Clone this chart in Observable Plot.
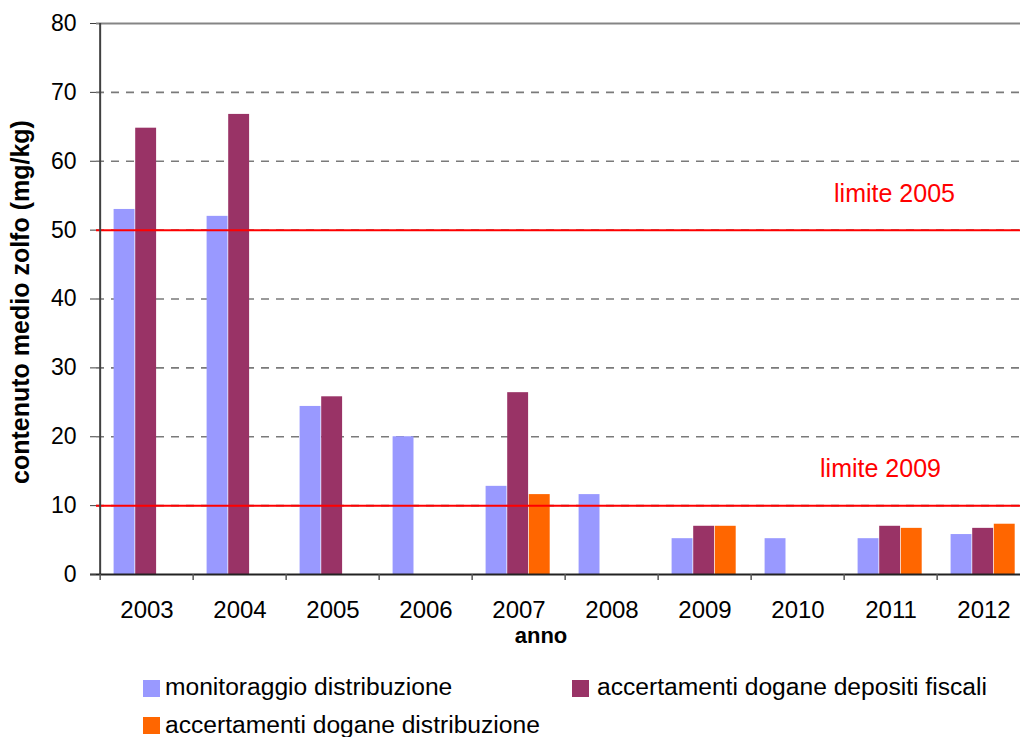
<!DOCTYPE html>
<html>
<head>
<meta charset="utf-8">
<script src="https://cdn.jsdelivr.net/npm/d3@7"></script>
<script src="https://cdn.jsdelivr.net/npm/@observablehq/plot@0.6"></script>
<style>
html, body { margin: 0; padding: 0; background: #fff; overflow: hidden; }
#wrap { position: relative; width: 1020px; height: 737px; overflow: hidden; font-family: "Liberation Sans", Arial, sans-serif; }
#wrap svg { position: absolute; left: 0; top: 0; max-width: none !important; }
.sw { position: absolute; width: 17px; height: 17px; }
.lt { position: absolute; font-size: 23px; line-height: 23px; white-space: nowrap; transform: scaleX(1.07); transform-origin: 0 0; color: #000; }
</style>
</head>
<body>
<div id="wrap"></div>
<script>
// ---- data ----
const years = ["2003", "2004", "2005", "2006", "2007", "2008", "2009", "2010", "2011", "2012"];
const monitoraggio = [53, 52, 24.4, 20, 12.8, 11.6, 5.2, 5.2, 5.2, 5.8];
const depositiFiscali = [64.8, 66.8, 25.8, null, 26.4, null, 7.0, null, 7.0, 6.7];
const doganeDistribuzione = [null, null, null, null, 11.6, null, 7.0, null, 6.7, 7.3];
const seriesNames = ["monitoraggio distribuzione", "accertamenti dogane depositi fiscali", "accertamenti dogane distribuzione"];
const seriesColors = ["#9999ff", "#993366", "#ff6600"];
const yTicks = [0, 10, 20, 30, 40, 50, 60, 70, 80];
const limits = [50, 10];
const limitLabels = ["limite 2005", "limite 2009"];

// ---- layout ----
const W = 1034, H = 650, mL = 96, mR = 1, mT = 23, mB = 76;
const step = (W - mL - mR) / years.length;
const half = step / 2;
const barStart = 13.6, barW = 21.6;

const seriesValues = [monitoraggio, depositiFiscali, doganeDistribuzione];
const tables = seriesValues.map((vals, s) =>
  years.map((y, i) => ({year: y, value: vals[i], series: seriesNames[s]})).filter(d => d.value != null)
);

const barMarks = tables.map((tbl, s) => Plot.barY(tbl, {
  x: "year", y: "value", fill: seriesColors[s],
  insetLeft: barStart + barW * s,
  insetRight: step - barStart - barW * (s + 1)
}));

const font = "'Liberation Sans', Arial, sans-serif";

const chart = Plot.plot({
  width: W, height: H,
  marginLeft: mL, marginRight: mR, marginTop: mT, marginBottom: mB,
  style: {fontFamily: font, background: "transparent", color: "#000", maxWidth: "none"},
  x: {domain: years, padding: 0, axis: null},
  y: {domain: [0, 80], axis: null},
  marks: [
    // dashed gridlines
    Plot.ruleY(yTicks.filter(v => v > 0 && v < 80), {stroke: "#7a7a7a", strokeWidth: 1.6, strokeDasharray: "8,7"}),
    // top line
    Plot.ruleY([80], {stroke: "#858585", strokeWidth: 2}),
    ...barMarks,
    // limit lines
    Plot.ruleY(limits, {stroke: "#ff0000", strokeWidth: 2}),
    Plot.text([limits[0]], {y: d => d, text: () => limitLabels[0], frameAnchor: "right", textAnchor: "middle", lineAnchor: "middle", dx: -139, dy: -36, fill: "#ff0000", fontSize: 25}),
    Plot.text([limits[1]], {y: d => d, text: () => limitLabels[1], frameAnchor: "right", textAnchor: "middle", lineAnchor: "middle", dx: -153, dy: -37, fill: "#ff0000", fontSize: 25}),
    // y axis line
    Plot.ruleX([years[0]], {dx: -half, stroke: "#404040", strokeWidth: 2}),
    // x axis line
    Plot.ruleY([0], {stroke: "#222", strokeWidth: 2, insetLeft: -6}),
    // x boundary ticks
    Plot.ruleX(years, {dx: -half, stroke: "#555", strokeWidth: 1.5, insetTop: 551, insetBottom: -6}),
    // axes
    Plot.axisY(yTicks, {tickSize: 6, tickPadding: 14, fontSize: 23, stroke: "#404040", label: null}),
    Plot.axisX({tickSize: 0, tickPadding: 26, fontSize: 24, label: null}),
    // titles
    Plot.text(["contenuto medio zolfo (mg/kg)"], {frameAnchor: "left", rotate: -90, dx: -76, dy: 3, fontWeight: "bold", fontSize: 25, textAnchor: "middle", lineAnchor: "middle"}),
    Plot.text(["anno"], {frameAnchor: "bottom", dx: -24, dy: 61, fontWeight: "bold", fontSize: 22, textAnchor: "middle", lineAnchor: "middle"})
  ]
});

const wrap = document.getElementById("wrap");
wrap.appendChild(chart);

// ---- legend ----
const legendPos = [
  {sx: 143, sy: 680, tx: 165, ty: 676},
  {sx: 572, sy: 680, tx: 597, ty: 676},
  {sx: 143, sy: 717, tx: 165, ty: 714}
];
seriesNames.forEach((name, i) => {
  const p = legendPos[i];
  const sw = document.createElement("div");
  sw.className = "sw";
  sw.style.left = p.sx + "px";
  sw.style.top = p.sy + "px";
  sw.style.background = seriesColors[i];
  wrap.appendChild(sw);
  const t = document.createElement("div");
  t.className = "lt";
  t.style.left = p.tx + "px";
  t.style.top = p.ty + "px";
  t.textContent = name;
  wrap.appendChild(t);
});
</script>
</body>
</html>
